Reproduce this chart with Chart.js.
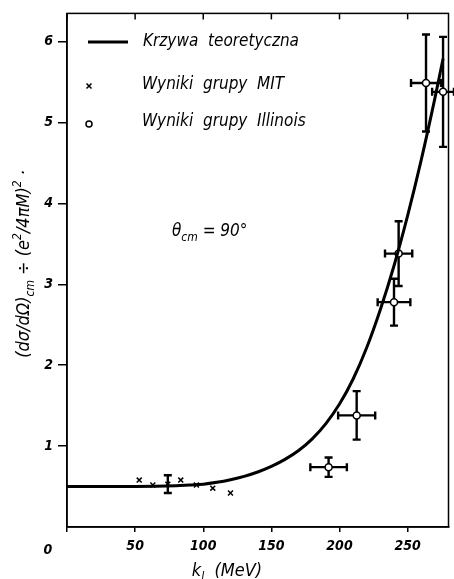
<!DOCTYPE html>
<html>
<head>
<meta charset="utf-8">
<script src="https://cdn.jsdelivr.net/npm/chart.js@4.4.0/dist/chart.umd.min.js"></script>
<style>
html, body { margin: 0; padding: 0; background: #fff; }
#wrap { width: 454px; height: 579px; }
</style>
</head>
<body>
<div id="wrap"><canvas id="chart" width="454" height="579"></canvas></div>
<script>
// theoretical curve (k in MeV, cross section ratio)
const curveK   = [0, 50, 80, 90, 100, 110, 120, 130, 140, 150, 160, 170, 180, 190, 200, 210, 220, 230, 240, 250, 260, 270, 276];
const curveVal = [0.5, 0.5, 0.51, 0.52, 0.53, 0.553, 0.585, 0.626, 0.68, 0.749, 0.836, 0.946, 1.09, 1.278, 1.52, 1.83, 2.22, 2.69, 3.23, 3.85, 4.54, 5.3, 5.79];

// MIT group
const mitK   = [53, 63, 74, 83.5, 95, 107, 120];
const mitVal = [0.58, 0.52, 0.53, 0.58, 0.52, 0.48, 0.42];
const mitErr = [0, 0, 0.11, 0, 0, 0, 0];

// Illinois group
const illK    = [192, 212.6, 240, 243.4, 263.5, 276];
const illVal  = [0.74, 1.38, 2.78, 3.38, 5.49, 5.38];
const illKErr = [13.4, 13.6, 12, 10, 11, 8];
const illErr  = [0.12, 0.3, 0.29, 0.4, 0.6, 0.68];

const xTicks = [0, 50, 100, 150, 200, 250];
const yTicks = [1, 2, 3, 4, 5, 6];

const FONT = "'DejaVu Sans Condensed', 'Liberation Sans Narrow', 'DejaVu Sans', sans-serif";

function toPoints(xs, ys) {
	return xs.map((x, i) => ({ x: x, y: ys[i] }));
}

function segFont(s, size) {
	const sz = (s.sub || s.sup) ? Math.round(size * 0.68) : size;
	return `italic ${sz}px ${FONT}`;
}

function richWidth(ctx, segs, size) {
	let w = 0;
	segs.forEach(s => { ctx.font = segFont(s, size); w += ctx.measureText(s.t).width; });
	return w;
}

function drawRich(ctx, segs, x, y, size) {
	segs.forEach(s => {
		ctx.font = segFont(s, size);
		const dy = s.sub ? size * 0.3 : (s.sup ? -size * 0.42 : 0);
		ctx.fillText(s.t, x, y + dy);
		x += ctx.measureText(s.t).width;
	});
}

const errorBars = {
	id: 'errorBars',
	beforeDatasetsDraw(chart) {
		const { ctx, scales: { x, y } } = chart;
		ctx.save();
		ctx.strokeStyle = '#000';
		ctx.lineWidth = 2.4;
		chart.data.datasets.forEach(ds => {
			if (!ds.yErr) return;
			ds.data.forEach((p, i) => {
				const px = x.getPixelForValue(p.x), py = y.getPixelForValue(p.y);
				const ye = ds.yErr[i] || 0, xe = ds.xErr ? ds.xErr[i] || 0 : 0;
				ctx.beginPath();
				if (ye) {
					const t = y.getPixelForValue(p.y + ye), b = y.getPixelForValue(p.y - ye);
					ctx.moveTo(px, t); ctx.lineTo(px, b);
					ctx.moveTo(px - 4, t); ctx.lineTo(px + 4, t);
					ctx.moveTo(px - 4, b); ctx.lineTo(px + 4, b);
				}
				if (xe) {
					const l = x.getPixelForValue(p.x - xe), r = x.getPixelForValue(p.x + xe);
					ctx.moveTo(l, py); ctx.lineTo(r, py);
					ctx.moveTo(l, py - 4); ctx.lineTo(l, py + 4);
					ctx.moveTo(r, py - 4); ctx.lineTo(r, py + 4);
				}
				ctx.stroke();
			});
		});
		ctx.restore();
	}
};

const decorations = {
	id: 'decorations',
	afterDraw(chart) {
		const { ctx, chartArea: a, scales: { x } } = chart;
		ctx.save();
		ctx.strokeStyle = '#000';
		ctx.fillStyle = '#000';

		// frame
		ctx.lineWidth = 1.5;
		ctx.strokeRect(a.left, a.top, a.right - a.left, a.bottom - a.top);

		// inward ticks on top edge
		xTicks.forEach(v => {
			const px = x.getPixelForValue(v);
			ctx.beginPath(); ctx.moveTo(px, a.top); ctx.lineTo(px, a.top + 6); ctx.stroke();
		});

		// origin label
		ctx.font = `italic bold 14px ${FONT}`;
		ctx.textAlign = 'center';
		ctx.textBaseline = 'middle';
		ctx.fillText('0', 48, 550);

		// legend
		ctx.lineWidth = 3;
		ctx.beginPath(); ctx.moveTo(88, 42); ctx.lineTo(128, 42); ctx.stroke();
		ctx.lineWidth = 1.5;
		ctx.beginPath();
		ctx.moveTo(86.5, 83.5); ctx.lineTo(91.5, 88.5);
		ctx.moveTo(91.5, 83.5); ctx.lineTo(86.5, 88.5);
		ctx.stroke();
		ctx.beginPath(); ctx.arc(89, 124, 3, 0, Math.PI * 2); ctx.stroke();

		ctx.textAlign = 'left';
		ctx.font = `italic 17px ${FONT}`;
		ctx.fillText('Krzywa  teoretyczna', 143, 42);
		ctx.fillText('Wyniki  grupy  MIT', 142, 85);
		ctx.fillText('Wyniki  grupy  Illinois', 142, 122);

		// theta annotation
		ctx.textBaseline = 'alphabetic';
		drawRich(ctx, [{ t: 'θ' }, { t: 'cm', sub: 1 }, { t: ' = 90°' }], 172, 236, 17);

		// x axis title
		const xt = [{ t: 'k' }, { t: 'l', sub: 1 }, { t: '  (MeV)' }];
		drawRich(ctx, xt, 227 - richWidth(ctx, xt, 18) / 2, 576, 18);

		// y axis title
		const yt = [{ t: '(dσ/dΩ)' }, { t: 'cm', sub: 1 }, { t: ' ÷ (e' }, { t: '2', sup: 1 }, { t: '/4πM)' }, { t: '2', sup: 1 }, { t: ' ·' }];
		ctx.translate(29, 264);
		ctx.rotate(-Math.PI / 2);
		drawRich(ctx, yt, -richWidth(ctx, yt, 18) / 2, 0, 18);

		ctx.restore();
	}
};

new Chart(document.getElementById('chart').getContext('2d'), {
	type: 'scatter',
	data: {
		datasets: [
			{
				label: 'Krzywa teoretyczna',
				type: 'line',
				data: toPoints(curveK, curveVal),
				borderColor: '#000',
				borderWidth: 3,
				pointRadius: 0,
				fill: false,
				cubicInterpolationMode: 'monotone'
			},
			{
				label: 'Wyniki grupy MIT',
				data: toPoints(mitK, mitVal),
				yErr: mitErr,
				pointStyle: 'crossRot',
				pointRadius: 3.5,
				borderColor: '#000',
				borderWidth: 1.5
			},
			{
				label: 'Wyniki grupy Illinois',
				data: toPoints(illK, illVal),
				xErr: illKErr,
				yErr: illErr,
				pointStyle: 'circle',
				pointRadius: 3.5,
				backgroundColor: '#fff',
				borderColor: '#000',
				borderWidth: 1.5
			}
		]
	},
	options: {
		responsive: false,
		animation: false,
		layout: { padding: { top: 13, right: 2, left: 0, bottom: 0 } },
		plugins: {
			legend: { display: false },
			tooltip: { enabled: false }
		},
		scales: {
			x: {
				type: 'linear',
				min: 0,
				max: 280,
				afterBuildTicks: s => { s.ticks = xTicks.map(v => ({ value: v })); },
				afterFit: s => { s.height = 52; },
				grid: { drawOnChartArea: false, tickLength: 5, color: '#000', lineWidth: 1.5 },
				border: { color: '#000', width: 1.5 },
				ticks: {
					padding: 6,
					color: '#000',
					font: { family: FONT, size: 14, style: 'italic', weight: 'bold' },
					maxRotation: 0,
					callback: v => v === 0 ? '' : String(v)
				}
			},
			y: {
				type: 'linear',
				min: 0,
				max: 6.35,
				afterBuildTicks: s => { s.ticks = yTicks.map(v => ({ value: v })); },
				afterFit: s => { s.width = 67; },
				grid: { drawOnChartArea: false, tickLength: 9, color: '#000', lineWidth: 1.5 },
				border: { color: '#000', width: 1.5 },
				ticks: {
					padding: 5,
					color: '#000',
					font: { family: FONT, size: 14, style: 'italic', weight: 'bold' }
				}
			}
		}
	},
	plugins: [errorBars, decorations]
});
</script>
</body>
</html>
